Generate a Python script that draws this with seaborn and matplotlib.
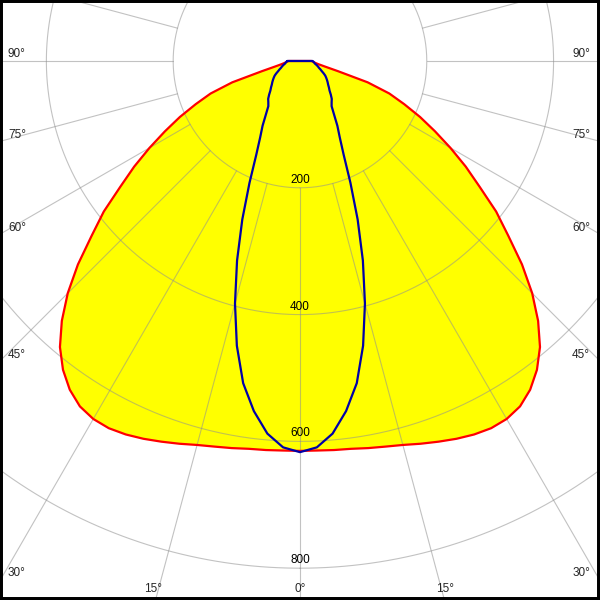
import numpy as np
import matplotlib
matplotlib.use('Agg')
import matplotlib.pyplot as plt
import matplotlib.patches as mpatches
import seaborn as sns

sns.set_theme(style='white')
plt.rcParams['font.family'] = ['Liberation Sans', 'DejaVu Sans']

# gamma angles (deg from nadir) and intensities (cd)
angles = [0, 2.5, 5, 7.5, 10, 12.5, 15, 17.5, 20, 22.5, 25, 27.5, 30, 32.5,
          35, 37.5, 40, 42.5, 45, 47.5, 50, 52.5, 55, 57.5, 60, 62.5, 65,
          67.5, 70, 72.5, 75, 77.5, 80, 82.5, 85, 87.5, 90]
c0_cd = [615, 615, 616, 617, 620, 623, 627, 633, 639, 645, 650, 653, 652, 646,
         633, 614, 589, 556, 518, 475, 429, 390, 346, 310, 274, 240, 209,
         178, 150, 112, 62, 40, 30, 25, 22, 20, 18]
c90_cd = [617, 610, 590, 557, 516, 460, 396, 330, 266, 208, 163, 136, 118, 100,
          87, 82, 78, 72, 66, 62, 58, 55, 52, 49, 46, 42, 38,
          35, 32, 30, 28, 26, 24, 23, 22, 21, 20]

ring_values = [200, 400, 600, 800]
ring_labels = ['200', '400', '600', '800']
side_labels = ['90°', '75°', '60°', '45°', '30°']
bottom_labels = ['15°', '0°', '15°']


def mirror(vals):
    # curve is symmetric: -90..0..90, closed across the top
    th = np.deg2rad(np.array([-a for a in angles[::-1]] + angles[1:] + [-angles[-1]]))
    r = np.array(vals[::-1] + vals[1:] + [vals[-1]])
    return th, r


fig = plt.figure(figsize=(6, 6), dpi=100)
fig.patch.set_facecolor('white')

# polar axes larger than the figure, pole near the top edge
ax = fig.add_axes([-0.5567, -0.1583, 2.1133, 2.1133], projection='polar')
ax.set_theta_zero_location('S')
ax.set_rlim(0, 1000)
ax.grid(False)
ax.set_xticks([])
ax.set_yticks([])
ax.spines['polar'].set_visible(False)
ax.set_facecolor('white')

th0, r0 = mirror(c0_cd)
th90, r90 = mirror(c90_cd)

ax.fill(th0, r0, color='#ffff00', zorder=1, lw=0)

# grid: rings and spokes starting at the first ring
grid_kw = dict(color='#909090', alpha=0.55, lw=0.8, zorder=2)
circ = np.linspace(0, 2 * np.pi, 721)
for rv in ring_values + [1000]:
    ax.plot(circ, np.full_like(circ, rv), **grid_kw)
for a in range(0, 360, 15):
    ax.plot([np.deg2rad(a)] * 2, [200, 1000], **grid_kw)

sns.lineplot(x=th0, y=r0, ax=ax, sort=False, estimator=None,
             color='#ff0000', lw=1.6, zorder=3)
sns.lineplot(x=th90, y=r90, ax=ax, sort=False, estimator=None,
             color='#0000a8', lw=1.6, zorder=4)
ax.set_xlabel('')
ax.set_ylabel('')

for rv, lab in zip(ring_values, ring_labels):
    ax.text(0, rv - 3, lab, ha='center', va='bottom', fontsize=8.5,
            color='black', zorder=5)

# angle labels along the frame
side_y = [54, 135, 228, 355, 573]
for lab, y in zip(side_labels, side_y):
    fig.text(8 / 600, 1 - y / 600, lab, ha='left', va='center', fontsize=8.5)
    fig.text(590 / 600, 1 - y / 600, lab, ha='right', va='center', fontsize=8.5)
for lab, x in zip(bottom_labels, [153, 300, 445]):
    fig.text(x / 600, 1 - 589 / 600, lab, ha='center', va='center', fontsize=8.5)

fig.patches.append(mpatches.Rectangle((0, 0), 1, 1, transform=fig.transFigure,
                                      fill=False, ec='black', lw=4.3))

fig.savefig('out.png', dpi=100)
